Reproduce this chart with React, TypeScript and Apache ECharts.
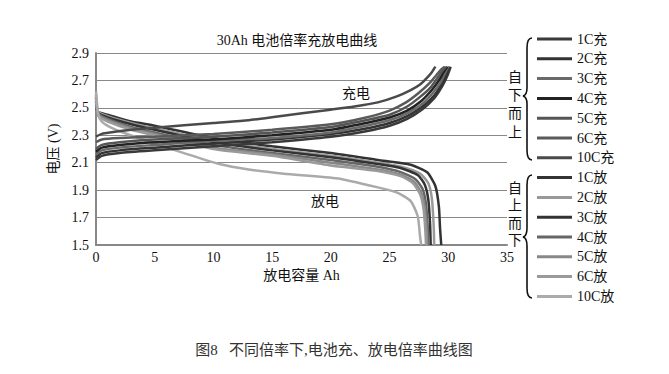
import React, { useEffect, useRef } from "react";
import * as echarts from "echarts";

// Axis ticks
const xTicks = [0, 5, 10, 15, 20, 25, 30, 35];
const yTicks = [1.5, 1.7, 1.9, 2.1, 2.3, 2.5, 2.7, 2.9];

// Charge curves [capacity Ah, voltage V]
const charge1C = [[0, 2.12], [0.5, 2.15], [2, 2.17], [5, 2.19], [10, 2.22], [15, 2.25], [20, 2.29], [23, 2.33], [25, 2.37], [26.5, 2.42], [27.8, 2.49], [28.8, 2.57], [29.5, 2.66], [29.9, 2.73], [30.2, 2.8]];
const charge2C = [[0, 2.14], [0.5, 2.17], [2, 2.19], [5, 2.21], [10, 2.24], [15, 2.27], [20, 2.31], [23, 2.35], [25, 2.39], [26.5, 2.44], [27.8, 2.51], [28.8, 2.59], [29.4, 2.67], [29.8, 2.74], [30.1, 2.8]];
const charge3C = [[0, 2.16], [0.5, 2.19], [2, 2.21], [5, 2.23], [10, 2.26], [15, 2.28], [20, 2.32], [23, 2.37], [25, 2.41], [26.5, 2.46], [27.8, 2.53], [28.7, 2.61], [29.3, 2.68], [29.7, 2.75], [30.0, 2.8]];
const charge4C = [[0, 2.18], [0.5, 2.21], [2, 2.23], [5, 2.25], [10, 2.27], [15, 2.3], [20, 2.34], [23, 2.39], [25, 2.43], [26.5, 2.48], [27.7, 2.55], [28.6, 2.63], [29.2, 2.7], [29.6, 2.76], [29.9, 2.8]];
const charge5C = [[0, 2.2], [0.5, 2.23], [2, 2.25], [5, 2.27], [10, 2.29], [15, 2.32], [20, 2.36], [23, 2.41], [25, 2.45], [26.5, 2.51], [27.6, 2.58], [28.5, 2.65], [29.1, 2.72], [29.5, 2.77], [29.8, 2.8]];
const charge6C = [[0, 2.25], [0.5, 2.27], [2, 2.28], [5, 2.29], [10, 2.31], [15, 2.34], [20, 2.38], [23, 2.43], [25, 2.48], [26.4, 2.54], [27.5, 2.61], [28.4, 2.68], [29.0, 2.74], [29.4, 2.78], [29.7, 2.8]];
const charge10C = [[0, 2.29], [0.5, 2.31], [1.2, 2.32], [3, 2.34], [5, 2.355], [10, 2.39], [13, 2.41], [15.3, 2.435], [19.8, 2.485], [22, 2.51], [24, 2.54], [25.5, 2.58], [26.8, 2.63], [27.6, 2.67], [28.2, 2.72], [28.6, 2.76], [28.9, 2.8]];

// Discharge curves [capacity Ah, voltage V]
const discharge1C = [[0, 2.5], [0.2, 2.47], [1, 2.45], [3, 2.4], [5, 2.37], [10, 2.28], [15, 2.22], [20, 2.17], [24, 2.12], [26.8, 2.085], [28.2, 2.03], [28.9, 1.93], [29.2, 1.78], [29.3, 1.62], [29.4, 1.5]];
const discharge2C = [[0, 2.52], [0.2, 2.47], [1, 2.44], [3, 2.39], [5, 2.35], [10, 2.26], [15, 2.2], [20, 2.15], [24, 2.1], [26, 2.07], [27.6, 2.02], [28.3, 1.95], [28.6, 1.84], [28.75, 1.65], [28.8, 1.5]];
const discharge3C = [[0, 2.55], [0.2, 2.46], [1, 2.43], [3, 2.38], [5, 2.34], [10, 2.25], [15, 2.19], [20, 2.14], [24, 2.09], [26, 2.06], [27.4, 2.01], [28.0, 1.94], [28.3, 1.83], [28.45, 1.65], [28.5, 1.5]];
const discharge4C = [[0, 2.57], [0.2, 2.46], [1, 2.42], [3, 2.36], [5, 2.32], [10, 2.23], [15, 2.17], [20, 2.12], [24, 2.07], [26, 2.03], [27.2, 1.98], [27.8, 1.91], [28.1, 1.8], [28.25, 1.63], [28.3, 1.5]];
const discharge5C = [[0, 2.58], [0.2, 2.45], [1, 2.41], [3, 2.35], [5, 2.31], [10, 2.21], [15, 2.16], [20, 2.1], [24, 2.05], [26, 2.01], [27.1, 1.96], [27.7, 1.88], [28.0, 1.77], [28.15, 1.62], [28.2, 1.5]];
const discharge6C = [[0, 2.6], [0.2, 2.44], [1, 2.4], [3, 2.34], [5, 2.3], [10, 2.2], [15, 2.15], [20, 2.08], [24, 2.04], [26, 2.0], [27.0, 1.95], [27.6, 1.87], [27.9, 1.76], [28.05, 1.6], [28.1, 1.5]];
const discharge10C = [[0, 2.62], [0.2, 2.45], [0.5, 2.4], [1.2, 2.36], [2.3, 2.32], [5, 2.24], [7.5, 2.17], [10.5, 2.09], [13, 2.05], [16, 2.02], [20.6, 1.985], [24, 1.92], [25.7, 1.88], [26.8, 1.82], [27.4, 1.71], [27.6, 1.56], [27.7, 1.5]];

const chargeNames = ["1C充", "2C充", "3C充", "4C充", "5C充", "6C充", "10C充"];
const dischargeNames = ["1C放", "2C放", "3C放", "4C放", "5C放", "6C放", "10C放"];
const chargeData = [charge1C, charge2C, charge3C, charge4C, charge5C, charge6C, charge10C];
const dischargeData = [discharge1C, discharge2C, discharge3C, discharge4C, discharge5C, discharge6C, discharge10C];
const chargeColors = ["#3a3a3a", "#333333", "#6a6a6a", "#222222", "#555555", "#5a5a5a", "#4a4a4a"];
const dischargeColors = ["#333333", "#999999", "#333333", "#666666", "#888888", "#9a9a9a", "#aaaaaa"];

const SERIF = "'Liberation Serif', 'DejaVu Serif', 'Noto Sans CJK SC', serif";

export default function App() {
  const ref = useRef<HTMLDivElement>(null);
  useEffect(() => {
    if (!ref.current) return;
    echarts.graphic.registerShape(
      "brace1",
      echarts.graphic.extendPath(
        "M532,38 Q527,38 527,48 L527,88 Q527,95 523,96 Q527,97 527,104 L527,150 Q527,160 532,160",
        {}
      )
    );
    echarts.graphic.registerShape(
      "brace2",
      echarts.graphic.extendPath(
        "M532,175 Q527,175 527,185 L527,228 Q527,236 523,237 Q527,238 527,246 L527,288 Q527,298 532,298",
        {}
      )
    );
    const chart = echarts.init(ref.current, undefined, { renderer: "svg" });
    const mk = (name: string, data: number[][], color: string) => ({
      name,
      type: "line",
      data,
      showSymbol: false,
      symbol: "none",
      smooth: 0.2,
      lineStyle: { color, width: 2.5 },
      itemStyle: { color },
    });
    const series = [
      ...dischargeNames.map((n, i) => mk(n, dischargeData[i], dischargeColors[i])),
      ...chargeNames.map((n, i) => mk(n, chargeData[i], chargeColors[i])),
    ];
    chart.setOption({
      animation: false,
      backgroundColor: "#ffffff",
      grid: { left: 96, right: 162, top: 53, bottom: 129, containLabel: false },
      legend: {
        data: [...chargeNames, ...dischargeNames],
        orient: "vertical",
        left: 537,
        top: 32,
        padding: 0,
        itemWidth: 35,
        itemHeight: 3,
        itemGap: 5.8,
        icon: "rect",
        selectedMode: false,
        textStyle: { fontFamily: SERIF, fontSize: 14, color: "#111", lineHeight: 14, padding: [0, 0, 0, 0] },
      },
      xAxis: {
        type: "value",
        min: 0,
        max: 35,
        interval: 5,
        name: "放电容量 Ah",
        nameLocation: "middle",
        nameGap: 21,
        nameTextStyle: { fontFamily: SERIF, fontSize: 14, color: "#111" },
        axisLine: { show: true, onZero: false, lineStyle: { color: "#888", width: 2 } },
        axisTick: { show: false },
        axisLabel: {
          fontFamily: SERIF,
          fontSize: 14,
          color: "#111",
          margin: 5,
          formatter: (v: number) => (xTicks.includes(v) ? String(v) : ""),
        },
        splitLine: { show: false },
      },
      yAxis: {
        type: "value",
        min: 1.5,
        max: 2.9,
        interval: 0.2,
        name: "电压 (V)",
        nameLocation: "middle",
        nameGap: 28,
        nameRotate: 90,
        nameTextStyle: { fontFamily: SERIF, fontSize: 14, color: "#111" },
        axisLine: { show: true, lineStyle: { color: "#888", width: 2 } },
        axisTick: { show: false },
        axisLabel: {
          fontFamily: SERIF,
          fontSize: 14,
          color: "#111",
          margin: 7,
          formatter: (v: number) => {
            const t = yTicks.find((y) => Math.abs(y - v) < 1e-6);
            return t !== undefined ? t.toFixed(1) : "";
          },
        },
        splitLine: { show: true, lineStyle: { color: "#888", width: 1 } },
      },
      graphic: [
        {
          type: "text",
          x: 297,
          y: 40,
          style: { text: "30Ah 电池倍率充放电曲线", fontFamily: SERIF, fontSize: 14, fill: "#111", align: "center", verticalAlign: "middle" },
        },
        {
          type: "text",
          x: 356,
          y: 93,
          style: { text: "充电", fontFamily: SERIF, fontSize: 14, fill: "#111", align: "center", verticalAlign: "middle" },
        },
        {
          type: "text",
          x: 325,
          y: 201,
          style: { text: "放电", fontFamily: SERIF, fontSize: 14, fill: "#111", align: "center", verticalAlign: "middle" },
        },
        {
          type: "text",
          x: 515,
          y: 68,
          style: { text: "自\n下\n而\n上", fontFamily: SERIF, fontSize: 14, lineHeight: 18.3, fill: "#111", align: "center", verticalAlign: "top" },
        },
        {
          type: "text",
          x: 515,
          y: 180,
          style: { text: "自\n上\n而\n下", fontFamily: SERIF, fontSize: 14, lineHeight: 17.3, fill: "#111", align: "center", verticalAlign: "top" },
        },
        { type: "brace1", style: { stroke: "#111", fill: "none", lineWidth: 1.6 } },
        { type: "brace2", style: { stroke: "#111", fill: "none", lineWidth: 1.6 } },
        {
          type: "text",
          x: 334,
          y: 350,
          style: { text: "图8   不同倍率下,电池充、放电倍率曲线图", fontFamily: SERIF, fontSize: 15, fill: "#333", align: "center", verticalAlign: "middle" },
        },
      ],
      series,
    });
    return () => chart.dispose();
  }, []);
  return <div ref={ref} style={{ position: "fixed", left: 0, top: 0, width: 669, height: 374 }} />;
}
